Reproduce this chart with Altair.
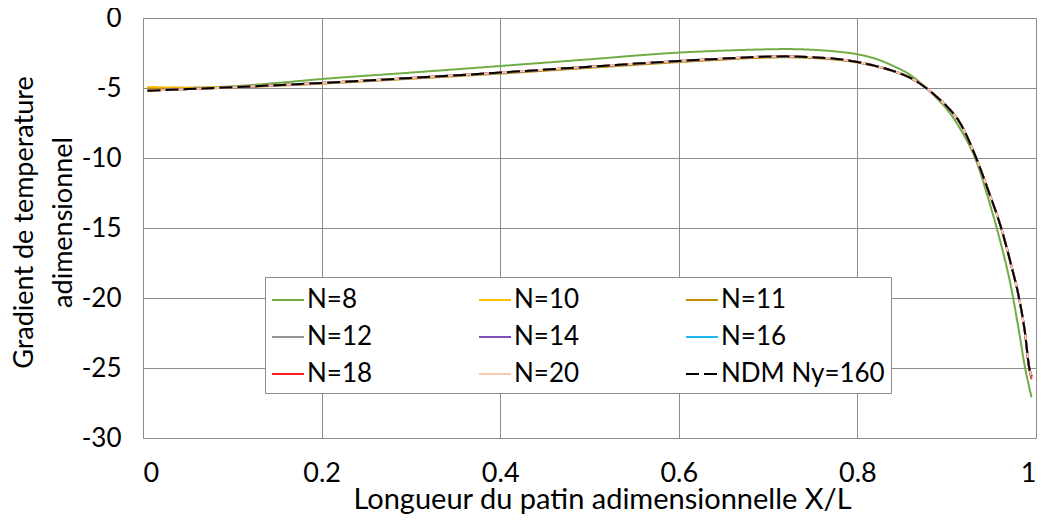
import altair as alt
import pandas as pd

# ---- data ----
x_vals = [0.005, 0.05, 0.1, 0.15, 0.2, 0.3, 0.4, 0.5, 0.6, 0.65, 0.69, 0.72, 0.75, 0.78, 0.8,
          0.82, 0.84, 0.86, 0.877, 0.89, 0.9, 0.915, 0.933, 0.947, 0.961, 0.972, 0.981, 0.9875,
          0.9925, 0.995]

n8 = [-5.0, -4.98, -4.88, -4.64, -4.36, -3.9, -3.43, -2.95, -2.47, -2.33, -2.25, -2.22, -2.27,
      -2.42, -2.59, -2.9, -3.42, -4.1, -5.0, -5.8, -6.5, -7.9, -10.2, -13.0, -16.2, -19.2,
      -22.4, -24.9, -26.4, -27.1]
n10 = [-4.92, -4.98, -4.93, -4.79, -4.64, -4.29, -3.92, -3.5, -3.1, -2.93, -2.8, -2.77, -2.83,
       -2.97, -3.15, -3.43, -3.78, -4.3, -4.98, -5.68, -6.28, -7.47, -9.96, -12.36, -14.95,
       -17.55, -19.95, -22.35, -24.95, -25.5]
n11 = [-5.05, -5.06, -4.97, -4.84, -4.69, -4.34, -3.97, -3.56, -3.15, -2.97, -2.84, -2.81, -2.86,
       -3.0, -3.18, -3.45, -3.8, -4.32, -5.0, -5.7, -6.3, -7.5, -10.0, -12.4, -15.0, -17.6,
       -20.0, -22.4, -25.0, -25.55]
n12 = [-5.15, -5.07, -4.95, -4.81, -4.65, -4.3, -3.92, -3.5, -3.09, -2.92, -2.79, -2.76, -2.82,
       -2.96, -3.15, -3.43, -3.79, -4.3, -5.0, -5.7, -6.3, -7.5, -10.0, -12.4, -15.0, -17.6,
       -20.0, -22.4, -25.0, -25.6]
n14 = [-5.17, -5.08, -4.95, -4.8, -4.64, -4.29, -3.91, -3.49, -3.08, -2.91, -2.78, -2.75, -2.81,
       -2.95, -3.14, -3.42, -3.78, -4.3, -5.0, -5.7, -6.3, -7.5, -10.0, -12.4, -15.0, -17.6,
       -20.0, -22.4, -25.0, -25.62]
n16 = [-5.18, -5.08, -4.95, -4.8, -4.64, -4.28, -3.9, -3.48, -3.07, -2.9, -2.77, -2.74, -2.8,
       -2.95, -3.14, -3.42, -3.78, -4.3, -5.0, -5.7, -6.3, -7.5, -10.0, -12.4, -15.0, -17.6,
       -20.0, -22.45, -25.05, -25.7]
n18 = [-5.19, -5.08, -4.95, -4.8, -4.64, -4.28, -3.9, -3.48, -3.07, -2.9, -2.77, -2.74, -2.8,
       -2.95, -3.14, -3.42, -3.78, -4.3, -5.0, -5.7, -6.3, -7.5, -10.0, -12.4, -15.0, -17.6,
       -20.0, -22.45, -25.1, -25.8]
n20 = [-5.2, -5.08, -4.95, -4.8, -4.64, -4.28, -3.9, -3.48, -3.07, -2.9, -2.77, -2.74, -2.8,
       -2.95, -3.14, -3.42, -3.78, -4.3, -5.0, -5.7, -6.3, -7.5, -10.0, -12.4, -15.0, -17.6,
       -20.0, -22.4, -25.0, -25.65]
ndm = [-5.2, -5.08, -4.95, -4.8, -4.64, -4.28, -3.9, -3.48, -3.07, -2.9, -2.77, -2.74, -2.8,
       -2.95, -3.14, -3.42, -3.78, -4.3, -5.0, -5.7, -6.3, -7.5, -10.0, -12.4, -15.0, -17.6,
       -20.0, -22.4, -25.0, -25.6]

series_names = ["N=8", "N=10", "N=11", "N=12", "N=14", "N=16", "N=18", "N=20", "NDM Ny=160"]
series_values = [n8, n10, n11, n12, n14, n16, n18, n20, ndm]
series_colors = ["#70AD47", "#FFC000", "#BF9000", "#969696", "#7F4FBF", "#1FB8F5", "#FF1F1F",
                 "#F8CBAD", "#000000"]
series_dash = [[1, 0]] * 8 + [[13, 5]]
series_width = [2, 2, 2, 2, 2, 2, 2, 3, 3.5]

x_ticks = [0, 0.2, 0.4, 0.6, 0.8, 1]
y_ticks = [-30, -25, -20, -15, -10, -5, 0]

rows = []
for k, (name, ys) in enumerate(zip(series_names, series_values)):
    for xv, yv in zip(x_vals, ys):
        rows.append({"x": xv, "y": yv, "serie": name, "k": k})
df = pd.DataFrame(rows)

FONT = "Lato"
GRID = "#8c8c8c"

legend = alt.Legend(
    title=None, orient="none", legendX=122, legendY=259, columns=3, direction="horizontal",
    gridAlign="all", symbolType="stroke", symbolSize=1024, labelFont=FONT, labelFontSize=26,
    labelColor="#000000", labelOffset=2, labelLimit=300, fillColor="#ffffff",
    strokeColor=GRID, padding=6, columnPadding=4, rowPadding=7,
)

chart = alt.Chart(df).mark_line(interpolate="monotone").encode(
    x=alt.X("x:Q", scale=alt.Scale(domain=[0, 1], nice=False, zero=False),
            axis=alt.Axis(values=x_ticks, labelExpr="'' + datum.value",
                          title="Longueur du patin adimensionnelle X/L",
                          titleX=459, titleY=70, titleBaseline="alphabetic",
                          titleAlign="center", titleFontSize=29, labelPadding=22)),
    y=alt.Y("y:Q", scale=alt.Scale(domain=[-30, 0], nice=False),
            axis=alt.Axis(values=y_ticks, labelExpr="'' + datum.value",
                          title=["Gradient de temperature", "adimensionnel"],
                          titleX=-105, titleY=204, titleAngle=270, titleBaseline="bottom",
                          titleAlign="center", titleLineHeight=39, labelPadding=22,
                          labelFontSize=26)),
    color=alt.Color("serie:N", sort=series_names,
                    scale=alt.Scale(domain=series_names, range=series_colors), legend=legend),
    strokeDash=alt.StrokeDash("serie:N", sort=series_names,
                              scale=alt.Scale(domain=series_names, range=series_dash),
                              legend=legend),
    strokeWidth=alt.StrokeWidth("serie:N", sort=series_names,
                                scale=alt.Scale(domain=series_names, range=series_width),
                                legend=legend),
    order=alt.Order("x:Q"),
).properties(
    width=893, height=420,
    background="#ffffff",
    autosize=alt.AutoSizeParams(type="none"),
    padding={"left": 135, "top": 10, "right": 2, "bottom": 76},
).configure_axis(
    labelFont=FONT, labelFontSize=27, labelColor="#000000",
    titleFont=FONT, titleFontSize=27, titleFontWeight="normal", titleColor="#000000",
    grid=True, gridColor=GRID, gridWidth=1, domain=False, ticks=False,
).configure_view(stroke=None)

chart.save("out.html", embed_options={"renderer": "svg", "actions": False})
